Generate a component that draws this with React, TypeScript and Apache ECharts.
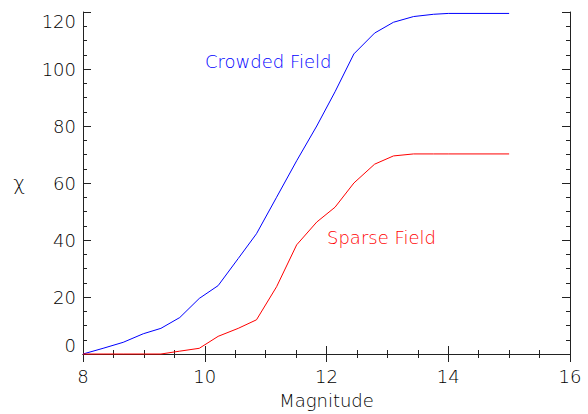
import React, { useEffect, useRef } from "react";
import * as echarts from "echarts";

const magnitudes = [8.0, 8.33, 8.66, 8.99, 9.28, 9.59, 9.91, 10.22, 10.55, 10.85, 11.18, 11.51, 11.84, 12.14, 12.45, 12.79, 13.1, 13.43, 13.76, 14.0, 15.0];
const crowdedField = [0, 2, 4.1, 7.1, 9.0, 12.8, 19.5, 24.0, 33.5, 42.2, 55, 67.8, 80, 92, 105.3, 112.6, 116.4, 118.4, 119.2, 119.5, 119.5];
const sparseField = [0, 0, 0, 0, 0, 1.0, 2.0, 6.2, 9, 12, 23.6, 38.3, 46.3, 51.5, 60, 66.6, 69.5, 70.2, 70.2, 70.2, 70.2];
const seriesNames = ["Crowded Field", "Sparse Field"];
const xAxisTitle = "Magnitude";
const yAxisTitle = "χ";

const FONT = "'DejaVu Sans', sans-serif";
const AXIS_COLOR = "#222";
const TEXT_COLOR = "#000";

export default function App() {
  const ref = useRef<HTMLDivElement>(null);
  useEffect(() => {
    if (!ref.current) return;
    const chart = echarts.init(ref.current, null, { renderer: "svg" });
    const pairs = (vals: number[]) => magnitudes.map((m, i) => [m, vals[i]]);
    const tickCommon = {
      axisLine: { show: true, lineStyle: { color: AXIS_COLOR, width: 1 } },
      axisTick: { show: true, inside: true, length: 8, lineStyle: { color: AXIS_COLOR } },
      minorTick: { show: true, splitNumber: 4, length: 4, lineStyle: { color: AXIS_COLOR } },
      splitLine: { show: false },
    };
    chart.setOption({
      animation: false,
      backgroundColor: "#fff",
      grid: { left: 83, right: 18, top: 12, bottom: 58, containLabel: false },
      xAxis: [
        {
          type: "value",
          min: 8,
          max: 16,
          interval: 2,
          position: "bottom",
          ...tickCommon,
          axisLabel: { color: TEXT_COLOR, fontFamily: FONT, fontSize: 18, fontWeight: 200, margin: 13 },
          name: xAxisTitle,
          nameLocation: "middle",
          nameGap: 37,
          nameTextStyle: { color: TEXT_COLOR, fontFamily: FONT, fontSize: 18, fontWeight: 200 },
        },
        {
          type: "value",
          min: 8,
          max: 16,
          interval: 2,
          position: "top",
          ...tickCommon,
          axisLabel: { show: false },
        },
      ],
      yAxis: [
        {
          type: "value",
          min: 0,
          max: 120,
          interval: 20,
          position: "left",
          ...tickCommon,
          axisLabel: {
            color: TEXT_COLOR,
            fontFamily: FONT,
            fontSize: 18,
            fontWeight: 200,
            margin: 7,
            verticalAlignMinLabel: "bottom",
            verticalAlignMaxLabel: "top",
          },
          name: yAxisTitle,
          nameLocation: "middle",
          nameRotate: 0,
          nameGap: 58,
          nameTextStyle: { color: TEXT_COLOR, fontFamily: FONT, fontSize: 20, fontWeight: 200 },
        },
        {
          type: "value",
          min: 0,
          max: 120,
          interval: 20,
          position: "right",
          ...tickCommon,
          axisLabel: { show: false },
        },
      ],
      series: [
        {
          name: seriesNames[0],
          type: "line",
          data: pairs(crowdedField),
          showSymbol: false,
          lineStyle: { color: "#0000ff", width: 1 },
          itemStyle: { color: "#0000ff" },
          clip: false,
        },
        {
          name: seriesNames[1],
          type: "line",
          data: pairs(sparseField),
          showSymbol: false,
          lineStyle: { color: "#ff0000", width: 1 },
          itemStyle: { color: "#ff0000" },
          clip: false,
        },
      ],
      graphic: [
        {
          type: "text",
          left: 205,
          top: 52,
          style: { text: seriesNames[0], fill: "#0000ff", font: `200 18px ${FONT}` },
        },
        {
          type: "text",
          left: 327,
          top: 228,
          style: { text: seriesNames[1], fill: "#ff0000", font: `200 18px ${FONT}` },
        },
      ],
    });
    return () => chart.dispose();
  }, []);
  return <div ref={ref} style={{ position: "fixed", left: 0, top: 0, width: 588, height: 414 }} />;
}
